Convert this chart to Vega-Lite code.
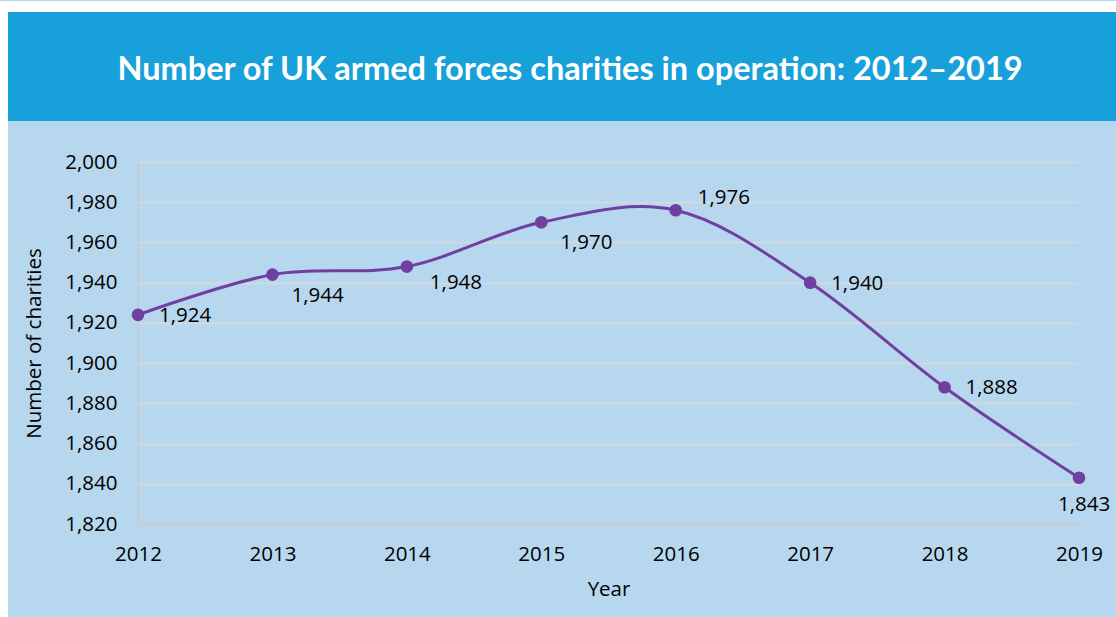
{
  "$schema": "https://vega.github.io/schema/vega-lite/v6.json",
  "background": "#b7d7ef",
  "padding": 0,
  "spacing": 0,
  "config": {
    "view": {"stroke": null},
    "concat": {"spacing": 0},
    "font": "Open Sans"
  },
  "hconcat": [
    {
      "width": 8,
      "height": 617,
      "view": {"fill": "#ffffff", "stroke": null},
      "data": {"values": [{"t": ""}]},
      "mark": {"type": "text"},
      "encoding": {"text": {"field": "t"}}
    },
    {
      "spacing": 0,
      "vconcat": [
        {
          "width": 1108,
          "height": 11,
          "view": {"fill": "#ffffff", "stroke": null},
          "data": {"values": [{"t": ""}]},
          "mark": {"type": "text"},
          "encoding": {"text": {"field": "t"}}
        },
        {
          "width": 1108,
          "height": 109,
          "view": {"fill": "#17a0da", "stroke": null},
          "data": {"values": [{"t": "Number of UK armed forces charities in operation: 2012–2019"}]},
          "mark": {"type": "text", "font": "Lato", "fontWeight": "bold", "fontSize": 32.5, "color": "#ffffff", "align": "center", "baseline": "middle", "dx": 8, "dy": 3},
          "encoding": {"text": {"field": "t"}}
        },
        {
          "width": 1,
          "height": 31,
          "data": {"values": [{"t": ""}]},
          "mark": {"type": "text"},
          "encoding": {"text": {"field": "t"}}
        },
        {
          "spacing": 0,
          "hconcat": [
            {
              "width": 16,
              "height": 1,
              "data": {"values": [{"t": ""}]},
              "mark": {"type": "text"},
              "encoding": {"text": {"field": "t"}}
            },
            {
              "width": 941,
              "height": 362,
              "data": {
                "values": [
                  {"year": "2012", "count": 1924},
                  {"year": "2013", "count": 1944},
                  {"year": "2014", "count": 1948},
                  {"year": "2015", "count": 1970},
                  {"year": "2016", "count": 1976},
                  {"year": "2017", "count": 1940},
                  {"year": "2018", "count": 1888},
                  {"year": "2019", "count": 1843}
                ]
              },
              "encoding": {
                "x": {
                  "field": "year",
                  "type": "ordinal",
                  "sort": null,
                  "scale": {"type": "point", "padding": 0},
                  "axis": {
                    "title": "Year",
                    "labelAngle": 0,
                    "labelFontSize": 20.5,
                    "labelColor": "#000000",
                    "labelPadding": 20,
                    "ticks": false,
                    "domainColor": "#c8c8c8",
                    "domainWidth": 1.5,
                    "grid": false,
                    "titleFontSize": 20.5,
                    "titleFontWeight": "normal",
                    "titleColor": "#000000",
                    "titlePadding": 15
                  }
                },
                "y": {
                  "field": "count",
                  "type": "quantitative",
                  "scale": {"domain": [1820, 2000], "nice": false, "zero": false},
                  "axis": {
                    "title": "Number of charities",
                    "values": [1820, 1840, 1860, 1880, 1900, 1920, 1940, 1960, 1980, 2000],
                    "format": ",d",
                    "labelFontSize": 20.5,
                    "labelColor": "#000000",
                    "labelPadding": 21,
                    "ticks": false,
                    "domainColor": "#c8c8c8",
                    "domainWidth": 1.5,
                    "gridColor": "#d9d9d9",
                    "gridWidth": 1.5,
                    "titleFontSize": 20.5,
                    "titleFontWeight": "normal",
                    "titleColor": "#000000",
                    "titlePadding": 20
                  }
                }
              },
              "layer": [
                {"mark": {"type": "line", "interpolate": "cardinal", "color": "#7040a0", "strokeWidth": 3}},
                {"mark": {"type": "point", "filled": true, "opacity": 1, "size": 160, "color": "#7040a0"}},
                {
                  "transform": [{"filter": "datum.year == '2012' || datum.year == '2017' || datum.year == '2018'"}],
                  "mark": {"type": "text", "align": "left", "baseline": "middle", "dx": 21, "dy": 1, "fontSize": 20.5, "color": "#000000"},
                  "encoding": {"text": {"field": "count", "type": "quantitative", "format": ",d"}}
                },
                {
                  "transform": [{"filter": "datum.year == '2013' || datum.year == '2015'"}],
                  "mark": {"type": "text", "align": "left", "baseline": "middle", "dx": 19, "dy": 21, "fontSize": 20.5, "color": "#000000"},
                  "encoding": {"text": {"field": "count", "type": "quantitative", "format": ",d"}}
                },
                {
                  "transform": [{"filter": "datum.year == '2014'"}],
                  "mark": {"type": "text", "align": "left", "baseline": "middle", "dx": 23, "dy": 16, "fontSize": 20.5, "color": "#000000"},
                  "encoding": {"text": {"field": "count", "type": "quantitative", "format": ",d"}}
                },
                {
                  "transform": [{"filter": "datum.year == '2016'"}],
                  "mark": {"type": "text", "align": "left", "baseline": "middle", "dx": 22, "dy": -12, "fontSize": 20.5, "color": "#000000"},
                  "encoding": {"text": {"field": "count", "type": "quantitative", "format": ",d"}}
                },
                {
                  "transform": [{"filter": "datum.year == '2019'"}],
                  "mark": {"type": "text", "align": "center", "baseline": "middle", "dx": 5, "dy": 27, "fontSize": 20.5, "color": "#000000"},
                  "encoding": {"text": {"field": "count", "type": "quantitative", "format": ",d"}}
                }
              ]
            }
          ]
        },
        {
          "width": 1,
          "height": 20,
          "data": {"values": [{"t": ""}]},
          "mark": {"type": "text"},
          "encoding": {"text": {"field": "t"}}
        }
      ]
    }
  ]
}
